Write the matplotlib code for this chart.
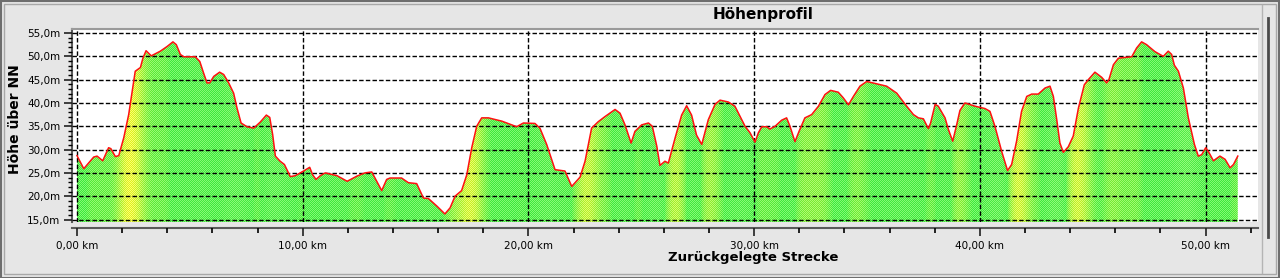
import numpy as np
import matplotlib
matplotlib.use("Agg")
import matplotlib.pyplot as plt
from matplotlib.patches import Polygon, Rectangle
from matplotlib.lines import Line2D
from matplotlib.ticker import MultipleLocator, FuncFormatter

# distance along route (km)
dist_km = [
    0.00, 0.30, 0.74, 0.89, 1.14, 1.40, 1.50, 1.70, 1.85, 2.07, 2.29, 2.58, 2.81, 2.92, 3.06, 3.29,
    3.69, 3.99, 4.25, 4.40, 4.58, 4.73, 5.24, 5.44, 5.61, 5.76, 5.88, 6.06, 6.32, 6.50, 6.72, 6.94,
    7.09, 7.27, 7.53, 7.83, 8.12, 8.39, 8.54, 8.67, 8.79, 9.00, 9.19, 9.45, 9.67, 10.04, 10.31, 10.44,
    10.59, 10.78, 11.00, 11.52, 11.97, 12.40, 12.76, 13.06, 13.28, 13.50, 13.72, 13.87, 14.38, 14.68,
    15.05, 15.35, 15.57, 15.94, 16.30, 16.53, 16.75, 17.04, 17.27, 17.49, 17.71, 17.93, 18.23, 18.82,
    19.48, 19.78, 20.29, 20.51, 20.81, 21.18, 21.62, 21.92, 22.29, 22.51, 22.80, 23.10, 23.40, 23.84,
    24.06, 24.28, 24.55, 24.72, 25.02, 25.32, 25.49, 25.69, 25.83, 26.05, 26.20, 26.50, 26.79, 27.01,
    27.23, 27.45, 27.68, 27.97, 28.27, 28.49, 28.86, 29.15, 29.60, 29.82, 30.04, 30.19, 30.34, 30.56,
    30.70, 30.93, 31.22, 31.44, 31.59, 31.81, 32.00, 32.25, 32.55, 32.85, 33.14, 33.39, 33.73, 33.95,
    34.18, 34.40, 34.69, 34.99, 35.43, 35.87, 36.32, 36.76, 37.06, 37.28, 37.50, 37.72, 37.82, 38.02,
    38.16, 38.46, 38.61, 38.80, 38.98, 39.12, 39.34, 39.79, 40.23, 40.45, 40.67, 40.97, 41.23, 41.41,
    41.63, 41.85, 42.08, 42.30, 42.59, 42.89, 43.11, 43.26, 43.41, 43.55, 43.70, 43.92, 44.14, 44.37,
    44.63, 44.81, 45.10, 45.40, 45.62, 45.72, 45.92, 46.14, 46.73, 46.95, 47.17, 47.39, 47.76, 48.13,
    48.35, 48.50, 48.62, 48.80, 49.02, 49.24, 49.51, 49.68, 49.83, 50.01, 50.16, 50.35, 50.64, 50.87,
    51.09, 51.24, 51.43,
]
# elevation (m above NN)
elev_m = [
    28.7, 25.9, 28.4, 28.6, 27.6, 30.4, 30.2, 28.5, 28.7, 32.5, 37.5, 46.8, 47.6, 49.6, 51.2, 50.1,
    51.1, 52.1, 53.1, 52.5, 50.4, 49.9, 49.9, 48.9, 46.4, 44.3, 44.3, 45.7, 46.6, 46.1, 44.3, 42.1,
    38.9, 35.7, 34.9, 34.6, 35.9, 37.4, 36.9, 33.2, 28.6, 27.5, 26.8, 24.2, 24.4, 25.4, 26.2, 24.6,
    23.6, 24.4, 25.0, 24.4, 23.2, 24.3, 25.0, 25.2, 23.2, 21.2, 23.6, 23.9, 23.9, 22.9,
    22.7, 19.6, 19.5, 17.9, 16.2, 17.5, 20.0, 21.2, 24.6, 30.4, 35.0, 36.8, 36.8, 36.1,
    34.9, 35.7, 35.6, 34.6, 31.1, 25.7, 25.4, 22.1, 24.1, 27.5, 34.6, 36.0, 37.1, 38.6,
    37.8, 35.3, 31.4, 33.9, 35.3, 35.7, 35.0, 30.7, 26.6, 27.5, 27.1, 32.5, 37.4, 39.4,
    37.4, 33.1, 31.1, 36.4, 39.7, 40.6, 40.2, 39.3, 35.0, 33.6, 31.6, 33.6, 34.9, 34.9,
    34.4, 35.0, 36.3, 36.8, 35.0, 31.7, 34.0, 36.8, 37.5, 39.3, 41.8, 42.7, 42.3, 41.1,
    39.6, 41.4, 43.6, 44.6, 44.1, 43.6, 42.1, 39.3, 37.5, 36.8, 36.6, 34.5, 35.7, 39.7,
    39.3, 36.8, 34.3, 31.8, 35.4, 38.4, 40.0, 39.3, 38.8, 38.2, 35.0, 29.6, 25.5, 26.8,
    31.8, 38.2, 41.4, 41.9, 41.9, 43.2, 43.6, 41.4, 36.4, 31.4, 29.4, 30.6, 32.9, 38.9,
    43.9, 45.0, 46.6, 45.5, 44.3, 45.0, 48.2, 49.6, 49.9, 51.8, 53.1, 52.5, 51.0, 50.0,
    51.1, 50.4, 48.1, 46.8, 43.2, 36.8, 31.1, 28.6, 28.9, 30.4, 29.3, 27.6, 28.6, 27.9,
    26.1, 26.8, 28.6,
]

title_text = "Höhenprofil"
x_label = "Zurückgelegte Strecke"
y_label = "Höhe über NN"

W, H = 1280, 278
fig = plt.figure(figsize=(W / 100, H / 100), dpi=100)
fig.patch.set_facecolor("#e6e6e6")

# axes geometry in pixels
L, R, T, B = 72, 1258, 29, 222
ax = fig.add_axes([L / W, (H - B) / H, (R - L) / W, (B - T) / H])
ax.set_facecolor("white")

px_per_km = 22.57
px_per_m = 4.663
x0_px, y55_px = 77, 33
xmin = (L - x0_px) / px_per_km
xmax = (R - x0_px) / px_per_km
ymax = 55 + (y55_px - T) / px_per_m
ymin = 55 - (B - y55_px) / px_per_m
ax.set_xlim(xmin, xmax)
ax.set_ylim(ymin, ymax)

x = np.asarray(dist_km)
y = np.asarray(elev_m)

# slope-based colouring image (yellow where climbing, lighter green where descending)
ncols = R - L
nrows = B - T
xc = np.linspace(xmin, xmax, ncols)
yi = np.interp(xc, x, y)
slope = np.gradient(yi, xc)
kx = np.arange(-20, 21)
k = np.exp(-0.5 * (kx / 7.0) ** 2)
k /= k.sum()
slope_s = np.convolve(slope, k, mode="same")
f = np.clip(slope_s / 20.0, 0, 1) ** 0.8
g = np.clip(-slope_s / 25.0, 0, 1) * 0.5
greenA = np.array([60, 232, 60]) / 255
greenB = np.array([130, 250, 115]) / 255
lightA = np.array([120, 240, 90]) / 255
lightB = np.array([175, 255, 140]) / 255
yelA = np.array([220, 240, 35]) / 255
yelB = np.array([255, 255, 110]) / 255
ii, jj = np.meshgrid(np.arange(nrows), np.arange(ncols), indexing="ij")
checker = ((ii + jj) % 2)[..., None]
fcol = f[None, :, None]
gcol = g[None, :, None]
baseA = greenA * (1 - gcol) + lightA * gcol
baseB = greenB * (1 - gcol) + lightB * gcol
colA = baseA * (1 - fcol) + yelA * fcol
colB = baseB * (1 - fcol) + yelB * fcol
img = np.where(checker == 0, colA, colB)

verts = [(x[0], ymin)] + list(zip(x, y)) + [(x[-1], ymin)]
poly = Polygon(verts, closed=True, facecolor="none", edgecolor="none")
ax.add_patch(poly)
im = ax.imshow(img, extent=[xmin, xmax, ymin, ymax], origin="upper",
               aspect="auto", interpolation="nearest", zorder=1)
im.set_clip_path(poly)

# grid
ax.xaxis.set_major_locator(MultipleLocator(10))
ax.xaxis.set_minor_locator(MultipleLocator(2))
ax.yaxis.set_major_locator(MultipleLocator(5))
ax.yaxis.set_minor_locator(MultipleLocator(1))
ax.grid(True, which="major", color="black", linestyle=(0, (3.2, 1.6)), linewidth=1.0, zorder=2)
ax.set_axisbelow(False)

ax.plot(x, y, color="#ff1010", linewidth=1.1, zorder=4)

ax.xaxis.set_major_formatter(FuncFormatter(lambda v, p: f"{v:.2f}".replace(".", ",") + " km"))
ax.yaxis.set_major_formatter(FuncFormatter(lambda v, p: f"{v:.1f}".replace(".", ",") + "m"))

ax.tick_params(axis="both", which="major", labelsize=7.5, direction="out", color="#202020")
ax.tick_params(axis="x", which="major", length=5.5, width=1.2, pad=4)
ax.tick_params(axis="x", which="minor", length=3.5, width=1.2)
ax.tick_params(axis="y", which="major", length=5.5, width=1.2, pad=3)
ax.tick_params(axis="y", which="minor", length=3, width=1.0)

ax.spines["right"].set_visible(False)
ax.spines["top"].set_color("#9a9a9a")
ax.spines["top"].set_linewidth(1.5)
ax.spines["left"].set_color("#5a5a5a")
ax.spines["left"].set_linewidth(1.5)
ax.spines["bottom"].set_color("#5a5a5a")
ax.spines["bottom"].set_linewidth(1.5)
ax.spines["bottom"].set_position(("outward", 4))

# texts
fig.text(763 / W, 1 - 14 / H, title_text, ha="center", va="center",
         fontsize=11, fontweight="bold", color="black")
fig.text(753 / W, 1 - 258 / H, x_label, ha="center", va="center",
         fontsize=9.5, fontweight="bold", color="black")
fig.text(15 / W, 1 - 119 / H, y_label, ha="center", va="center", rotation=90,
         fontsize=10, fontweight="bold", color="black")

# frame decorations
fig.add_artist(Rectangle((0.5 / W, 0.5 / H), 1 - 1.5 / W, 1 - 1.5 / H, transform=fig.transFigure,
                         fill=False, edgecolor="#6e6e6e", linewidth=1.5))
fig.add_artist(Rectangle((4 / W, 4 / H), 1 - 8 / W, 1 - 8 / H, transform=fig.transFigure,
                         fill=False, edgecolor="#a8a8a8", linewidth=1.0))
fig.add_artist(Line2D([1262 / W, 1262 / W], [1 - 5 / H, 5 / H], transform=fig.transFigure,
                      color="#b4b4b4", linewidth=1.0))
fig.add_artist(Line2D([1268 / W, 1268 / W], [1 - 18 / H, 1 - 237 / H], transform=fig.transFigure,
                      color="#4a4a4a", linewidth=2.0))

fig.savefig("out.png", dpi=100, facecolor=fig.get_facecolor())
